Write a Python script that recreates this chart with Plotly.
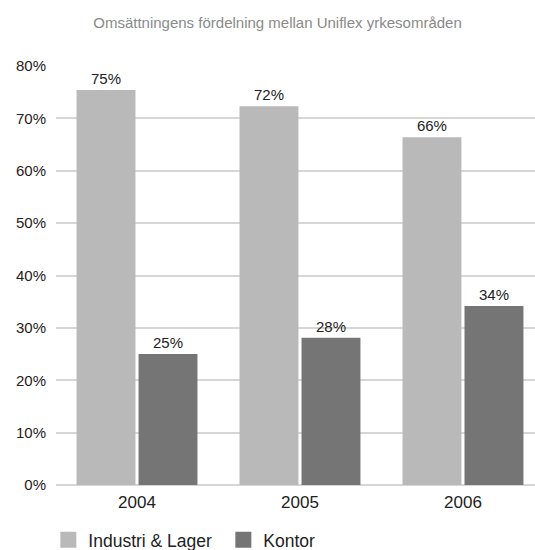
import plotly.graph_objects as go

years = ["2004", "2005", "2006"]
series_names = ["Industri & Lager", "Kontor"]
industri = [75.4, 72.3, 66.4]
kontor = [25.0, 28.1, 34.2]
y_ticks = [0, 10, 20, 30, 40, 50, 60, 70, 80]
y_tick_labels = ["0%", "10%", "20%", "30%", "40%", "50%", "60%", "70%", "80%"]
title_text = "Omsättningens fördelning mellan Uniflex yrkesområden"

colors = ["#b9b9b9", "#757575"]
FONT = "Liberation Sans, Arial, sans-serif"

fig = go.Figure()
for name, vals, col in zip(series_names, [industri, kontor], colors):
    fig.add_trace(go.Bar(
        x=years, y=vals, name=name, marker=dict(color=col, line=dict(width=0)),
        texttemplate="%{y:.0f}%", textposition="outside", cliponaxis=False,
        textfont=dict(family=FONT, size=15, color="#222222"),
        showlegend=False,
    ))
    fig.add_trace(go.Scatter(
        x=[None], y=[None], mode="markers", name=name,
        marker=dict(symbol="square", size=19, color=col),
    ))

fig.update_layout(
    width=535, height=550,
    margin=dict(l=56, r=0, t=66, b=65, autoexpand=False),
    paper_bgcolor="white", plot_bgcolor="white",
    barmode="group", bargap=0.239, bargroupgap=0.05,
    title=dict(text=title_text, x=277.5 / 535, xanchor="center", y=1 - 23 / 550, yanchor="middle",
               font=dict(family=FONT, size=15, color="#8a8a8a")),
    font=dict(family=FONT, color="#222222"),
    legend=dict(orientation="h", x=-0.016, xanchor="left", y=-0.131, yanchor="middle",
                font=dict(family=FONT, size=17.5, color="#222222"),
                itemsizing="trace", entrywidth=130, entrywidthmode="pixels",
                bgcolor="rgba(0,0,0,0)"),
    xaxis=dict(type="category", range=[-0.497, 2.442], showgrid=False, showline=False,
               ticks="outside", ticklen=2, tickcolor="rgba(0,0,0,0)", automargin=False,
               tickfont=dict(family=FONT, size=17, color="#222222")),
    yaxis=dict(range=[0, 80], tickvals=y_ticks, ticktext=y_tick_labels, automargin=False,
               showgrid=True, gridcolor="#d6d6d6", gridwidth=2,
               zeroline=True, zerolinecolor="#d6d6d6", zerolinewidth=2,
               showline=False, ticks="outside", ticklen=6, tickcolor="rgba(0,0,0,0)",
               tickfont=dict(family=FONT, size=15, color="#222222")),
)

fig.write_html("out.html", config={"displayModeBar": False},
               post_script="document.body.style.margin='0';")
